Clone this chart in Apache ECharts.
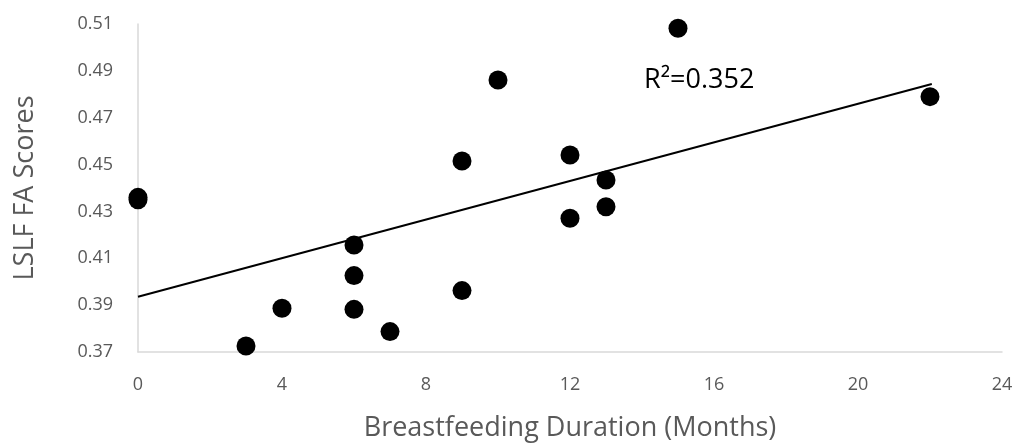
<!DOCTYPE html>
<html>
<head>
<meta charset="utf-8">
<script src="https://cdn.jsdelivr.net/npm/echarts@6/dist/echarts.min.js"></script>
<style>
html,body{margin:0;padding:0;background:#fff;}
#chart{width:1018px;height:443px;}
</style>
</head>
<body>
<div id="chart"></div>
<script>
const durationMonths = [0, 0, 3, 4, 6, 6, 6, 7, 9, 9, 10, 12, 12, 13, 13, 15, 22];
const faScores = [0.436, 0.435, 0.3726, 0.3887, 0.4157, 0.4026, 0.3882, 0.3787, 0.4515, 0.3962, 0.4861, 0.4541, 0.4271, 0.4434, 0.432, 0.5082, 0.479];
const trendX = [0, 22.05];
const trendY = [0.3936, 0.4844];
const xTicks = [0, 4, 8, 12, 16, 20, 24];
const yTicks = [0.37, 0.39, 0.41, 0.43, 0.45, 0.47, 0.49, 0.51];
const rSquaredLabel = 'R²=0.352';

const chart = echarts.init(document.getElementById('chart'));
const font = 'Open Sans';
chart.setOption({
  animation: false,
  backgroundColor: '#ffffff',
  grid: {left: 138, right: 16, top: 24, bottom: 91, containLabel: false, outerBoundsMode: 'none'},
  xAxis: {
    type: 'value', min: xTicks[0], max: xTicks[xTicks.length - 1], interval: 4,
    name: 'Breastfeeding Duration (Months)', nameLocation: 'middle', nameGap: 63,
    nameTextStyle: {fontFamily: font, fontSize: 27, color: '#595959'},
    axisLine: {show: true, lineStyle: {color: '#d9d9d9', width: 1.5}},
    axisTick: {show: false},
    splitLine: {show: false},
    axisLabel: {fontFamily: font, fontSize: 18, color: '#595959', margin: 24}
  },
  yAxis: {
    type: 'value', min: yTicks[0], max: yTicks[yTicks.length - 1], interval: 0.02,
    name: 'LSLF FA Scores', nameLocation: 'middle', nameGap: 99,
    nameTextStyle: {fontFamily: font, fontSize: 27, color: '#595959'},
    axisLine: {show: true, lineStyle: {color: '#d9d9d9', width: 1.5}},
    axisTick: {show: false},
    splitLine: {show: false},
    axisLabel: {fontFamily: font, fontSize: 18, color: '#595959', margin: 25,
      formatter: v => v.toFixed(2)}
  },
  series: [
    {
      type: 'line',
      data: trendX.map((x, i) => [x, trendY[i]]),
      showSymbol: false, symbol: 'none',
      lineStyle: {color: '#000', width: 2},
      z: 2
    },
    {
      type: 'scatter',
      data: durationMonths.map((x, i) => [x, faScores[i]]),
      symbolSize: 19,
      itemStyle: {color: '#000', opacity: 1},
      z: 3
    }
  ],
  graphic: [{
    type: 'text', left: 644, top: 67,
    style: {text: rSquaredLabel, fontFamily: font, fontSize: 27, fill: '#000'}
  }]
});
</script>
</body>
</html>
